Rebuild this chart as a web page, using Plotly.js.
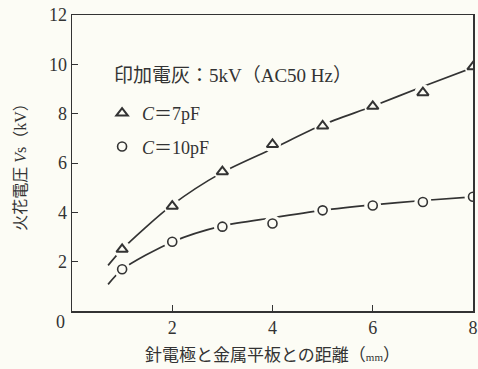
<!DOCTYPE html>
<html><head><meta charset="utf-8">
<script src="https://cdn.plot.ly/plotly-3.0.1.min.js"></script>
<style>html,body{margin:0;padding:0;background:#fcfcf5;}</style>
</head><body><div id="chart" style="width:478px;height:369px;"></div>
<script>
// Measured points
var distance = [1, 2, 3, 4, 5, 6, 7, 8];
var vs7pF  = [2.5, 4.25, 5.65, 6.75, 7.5, 8.3, 8.85, 9.9];
var vs10pF = [1.69, 2.81, 3.42, 3.55, 4.08, 4.28, 4.42, 4.63];
// Fitted curves
var curveX     = [0.72, 1, 2, 3, 4, 5, 6, 7, 8];
var curve7pF   = [1.85, 2.5, 4.3, 5.62, 6.58, 7.55, 8.3, 9.1, 9.87];
var curve10pF  = [1.08, 1.68, 2.8, 3.45, 3.78, 4.08, 4.3, 4.48, 4.63];
var xTicks = [2, 4, 6, 8];
var yTicks = [2, 4, 6, 8, 10, 12];

var BG = '#fcfcf5', INK = '#333333';
var SERIF = 'Liberation Serif, Times New Roman, DejaVu Serif, serif';
var JP = 'Liberation Serif, Noto Sans CJK JP, serif';

function curve(y){ return {x:curveX, y:y, mode:'lines', line:{color:INK, width:1.7, shape:'spline', smoothing:0.8}, showlegend:false, hoverinfo:'skip'}; }
function mask(y, sym){ return {x:distance, y:y, mode:'markers', marker:{symbol:sym, size:17, color:BG, line:{width:0}}, showlegend:false, hoverinfo:'skip'}; }

var traces = [
  curve(curve7pF), curve(curve10pF),
  mask(vs7pF, 'circle'), mask(vs10pF, 'circle'),
  {x:distance, y:vs7pF, mode:'markers', name:'<i>C</i>＝7pF', legendgroup:'a',
   marker:{symbol:'triangle-up-open', size:10, color:INK, line:{width:2, color:INK}}},
  {x:distance, y:vs10pF, mode:'markers', name:'<i>C</i>＝10pF', legendgroup:'b',
   marker:{symbol:'circle-open', size:9, color:INK, line:{width:1.6, color:INK}}}
];

var layout = {
  width:478, height:369,
  paper_bgcolor:BG, plot_bgcolor:BG,
  margin:{l:72, r:5, t:15, b:58},
  font:{family:SERIF, color:INK, size:18},
  showlegend:true,
  legend:{x:0.075, y:0.73, xanchor:'left', yanchor:'top', bgcolor:'rgba(0,0,0,0)',
          font:{family:JP, size:18, color:INK}, tracegroupgap:7, itemwidth:30},
  xaxis:{range:[0,8], tickvals:xTicks, ticktext:xTicks.map(String), ticks:'inside', ticklen:6,
         tickcolor:INK, showline:true, linecolor:INK, linewidth:1.5, mirror:true, showgrid:false,
         zeroline:false, tickfont:{family:SERIF, size:18, color:INK},
         title:{text:'針電極と金属平板との距離（<span style="font-size:11px">mm</span>）',
                font:{family:JP, size:17, color:INK}, standoff:12}},
  yaxis:{range:[0,12], tickvals:yTicks, ticktext:yTicks.map(String), ticks:'inside', ticklen:6,
         tickcolor:INK, showline:true, linecolor:INK, linewidth:1.5, mirror:true, showgrid:false,
         zeroline:false, tickfont:{family:SERIF, size:18, color:INK},
         title:{text:'火花電圧 <i>V</i>s（kV）', font:{family:JP, size:16, color:INK}, standoff:18}},
  annotations:[
    {xref:'paper', yref:'paper', x:0, y:0, text:'0', showarrow:false, xanchor:'center', yanchor:'middle',
     xshift:-12, yshift:-11, font:{family:SERIF, size:18, color:INK}},
    {xref:'paper', yref:'paper', x:0.1, y:0.795, text:'印加電灰：5kV（AC50 Hz）', showarrow:false,
     xanchor:'left', yanchor:'middle', font:{family:JP, size:19, color:INK}}
  ]
};
Plotly.newPlot('chart', traces, layout, {displayModeBar:false, staticPlot:true});
</script></body></html>
